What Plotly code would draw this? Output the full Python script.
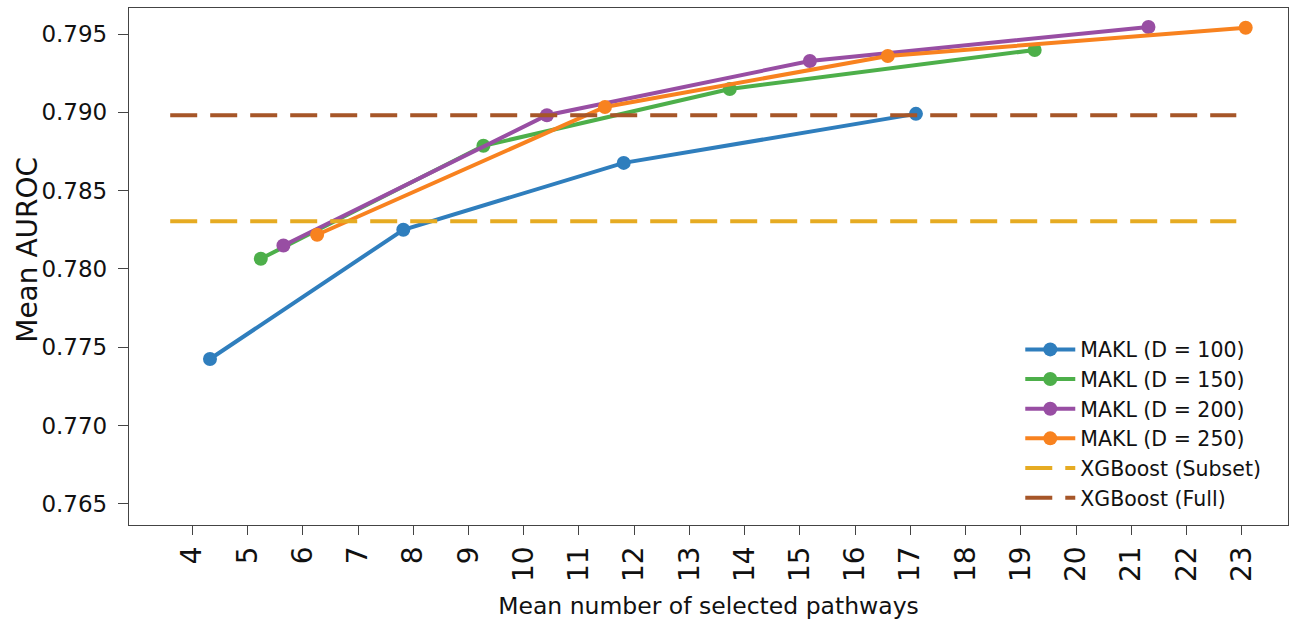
import plotly.graph_objects as go

# Data
x_d100 = [4.32, 7.82, 11.81, 17.10]
y_d100 = [0.77425, 0.7825, 0.78677, 0.7899]
x_d150 = [5.24, 9.27, 13.73, 19.25]
y_d150 = [0.78065, 0.78786, 0.79149, 0.79398]
x_d200 = [5.65, 10.42, 15.18, 21.31]
y_d200 = [0.7815, 0.78981, 0.79328, 0.79545]
x_d250 = [6.26, 11.47, 16.59, 23.07]
y_d250 = [0.78218, 0.79034, 0.7936, 0.7954]
xgb_subset = 0.78305
xgb_full = 0.78981
baseline_x = [3.6, 22.9]
x_ticks = list(range(4, 24))
y_ticks = [0.765, 0.770, 0.775, 0.780, 0.785, 0.790, 0.795]

series = [
    ("MAKL (D = 100)", x_d100, y_d100, "#2F7EBD"),
    ("MAKL (D = 150)", x_d150, y_d150, "#4DAF4A"),
    ("MAKL (D = 200)", x_d200, y_d200, "#984EA3"),
    ("MAKL (D = 250)", x_d250, y_d250, "#F8821F"),
]

fig = go.Figure()
for name, xs, ys, col in series:
    fig.add_trace(go.Scatter(
        x=xs, y=ys, mode="lines+markers", name=name,
        line=dict(color=col, width=4),
        marker=dict(color=col, size=14),
    ))

for name, val, col in [("XGBoost (Subset)", xgb_subset, "#E6AB22"),
                       ("XGBoost (Full)", xgb_full, "#A65628")]:
    fig.add_trace(go.Scatter(
        x=baseline_x, y=[val, val], mode="lines", name=name,
        line=dict(color=col, width=4, dash="27px,13px"),
    ))

font = "DejaVu Sans, Liberation Sans, Arial, sans-serif"
axis_common = dict(
    showline=True, linecolor="#444", linewidth=1.3, mirror=True,
    ticks="outside", tickcolor="#444", tickwidth=1.2,
    showgrid=False, zeroline=False, automargin=False,
)

fig.update_layout(
    width=1292, height=621,
    margin=dict(l=129, r=4, t=8, b=96),
    plot_bgcolor="white", paper_bgcolor="white",
    font=dict(family=font, color="#111"),
    xaxis=dict(
        **axis_common,
        ticklen=9,
        range=[2.854, 23.836],
        tickvals=x_ticks, ticktext=[str(v) for v in x_ticks],
        tickangle=-90,
        tickfont=dict(family=font, size=28, color="#111"),
        title=dict(text="Mean number of selected pathways",
                   font=dict(family=font, size=23.5), standoff=16),
    ),
    yaxis=dict(
        **axis_common,
        ticklen=10,
        ticklabelstandoff=6,
        range=[0.76365, 0.79666],
        tickvals=y_ticks, ticktext=[f"{v:.3f}" for v in y_ticks],
        tickfont=dict(family=font, size=23, color="#111"),
    ),
    annotations=[dict(
        text="Mean AUROC", xref="paper", yref="paper",
        x=(28 - 129) / 1159, y=(525.5 - 250) / 517.5,
        xanchor="center", yanchor="middle", textangle=-90,
        showarrow=False, font=dict(family=font, size=28, color="#111"),
    )],
    legend=dict(
        x=0.769, y=0.378, xanchor="left", yanchor="top",
        font=dict(family=font, size=20.5, color="#111"),
        bgcolor="rgba(255,255,255,0)", borderwidth=0,
        itemwidth=50, tracegroupgap=0,
    ),
    showlegend=True,
)

fig.write_html(
    "out.html",
    config={"responsive": False, "displayModeBar": False},
    post_script=(
        "document.body.style.margin='0';"
        "document.body.style.overflow='hidden';"
        "Plotly.relayout('{plot_id}', {width:1292, height:621});"
    ),
)
